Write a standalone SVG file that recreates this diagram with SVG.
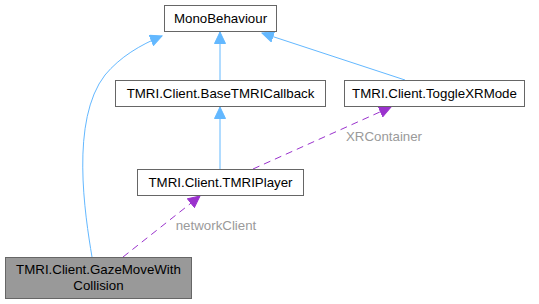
<svg xmlns="http://www.w3.org/2000/svg" width="539" height="304" viewBox="0 0 539 304">
<style>
  .box { fill: #ffffff; stroke: #666666; stroke-width: 1; }
  .cur { fill: #999999; stroke: #666666; stroke-width: 1; }
  .lbl { font-family: "Liberation Sans", Arial, Helvetica, sans-serif; font-size: 13.3px; fill: #000000; text-anchor: middle; }
  .elbl { font-family: "Liberation Sans", Arial, Helvetica, sans-serif; font-size: 13.3px; fill: #9a9a9a; text-anchor: middle; }
  .inh { fill: none; stroke: #63b8ff; stroke-width: 1; }
  .use { fill: none; stroke: #9a32cd; stroke-width: 1; stroke-dasharray: 7,5; }
</style>
<defs>
  <marker id="arrInh" viewBox="0 0 13 12" refX="12" refY="6" markerWidth="13" markerHeight="12" markerUnits="userSpaceOnUse" orient="auto">
    <path d="M0.5,0.5 L12,6 L0.5,11.5 z" fill="#63b8ff" stroke="#63b8ff"/>
  </marker>
  <marker id="arrUse" viewBox="0 0 13 12" refX="12" refY="6" markerWidth="13" markerHeight="12" markerUnits="userSpaceOnUse" orient="auto">
    <path d="M0.5,0.5 L12,6 L0.5,11.5 z" fill="#9a32cd" stroke="#9a32cd"/>
  </marker>
</defs>

<g id="edges">
  <path class="inh" d="M92,257 C85,215 70,120 105,75 C120,57 140,45 162,36" marker-end="url(#arrInh)"/>
  <path class="inh" d="M220,80 L220,32" marker-end="url(#arrInh)"/>
  <path class="inh" d="M405,80 L262,33" marker-end="url(#arrInh)"/>
  <path class="inh" d="M220,169 L220,107" marker-end="url(#arrInh)"/>
  <path class="use" d="M253,169 L391,107" marker-end="url(#arrUse)"/>
  <text class="elbl" x="384" y="141">XRContainer</text>
  <path class="use" d="M123,257 L200,196" marker-end="url(#arrUse)"/>
  <text class="elbl" x="216" y="230">networkClient</text>
</g>

<g id="node_MonoBehaviour">
  <rect class="box" x="164.5" y="5.5" width="112" height="26"/>
  <text class="lbl" x="220.5" y="23">MonoBehaviour</text>
</g>
<g id="node_BaseTMRICallback">
  <rect class="box" x="115.5" y="80.5" width="210" height="26"/>
  <text class="lbl" x="220.5" y="98">TMRI.Client.BaseTMRICallback</text>
</g>
<g id="node_ToggleXRMode">
  <rect class="box" x="344.5" y="80.5" width="180" height="26"/>
  <text class="lbl" x="434.5" y="98">TMRI.Client.ToggleXRMode</text>
</g>
<g id="node_TMRIPlayer">
  <rect class="box" x="137.5" y="169.5" width="166" height="26"/>
  <text class="lbl" x="220.5" y="187">TMRI.Client.TMRIPlayer</text>
</g>
<g id="node_GazeMoveWithCollision">
  <rect class="cur" x="5.5" y="257.5" width="186" height="41"/>
  <text class="lbl" x="98.5" y="274">TMRI.Client.GazeMoveWith</text>
  <text class="lbl" x="98.5" y="290">Collision</text>
</g>
</svg>
